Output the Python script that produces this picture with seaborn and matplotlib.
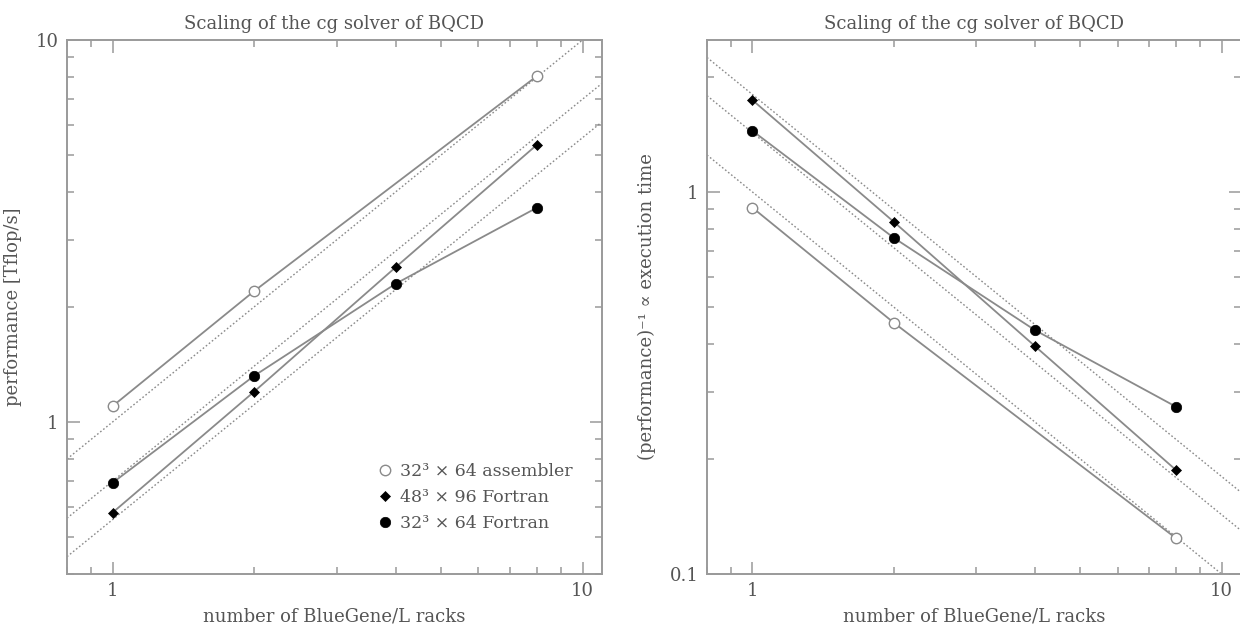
import numpy as np
import pandas as pd
import matplotlib
matplotlib.use("Agg")
import matplotlib.pyplot as plt
import seaborn as sns
from matplotlib.lines import Line2D
from matplotlib.ticker import LogLocator, NullFormatter, FuncFormatter

# ---------------- data ----------------
racks = [1, 2, 4, 8]
racks_asm = [1, 2, 8]

labels = ["32³ × 64 assembler", "48³ × 96 Fortran", "32³ × 64 Fortran"]

perf_asm = [1.10, 2.20, 8.05]
perf_f48 = [0.579, 1.20, 2.54, 5.32]
perf_f32 = [0.693, 1.32, 2.30, 3.64]

inv_asm = [0.91, 0.455, 0.124]
inv_f48 = [1.74, 0.836, 0.395, 0.187]
inv_f32 = [1.446, 0.759, 0.435, 0.274]

# ideal-scaling reference lines (value at 1 rack)
ref_left = [1.0, 0.70, 0.555]
ref_right = [1.0, 1.43, 1.80]

title = "Scaling of the cg solver of BQCD"
xlabel = "number of BlueGene/L racks"
ylabel_left = "performance [Tflop/s]"
ylabel_right = "(performance)⁻¹ ∝ execution time"

# ---------------- style ----------------
sns.set_style("ticks")
plt.rcParams["font.family"] = ["DejaVu Serif", "DejaVu Sans"]
TXT = "#555555"
LINE = "#8a8a8a"
SPINE = "#9a9a9a"
plt.rcParams.update({
    "text.color": TXT, "axes.labelcolor": TXT,
    "xtick.color": SPINE, "ytick.color": SPINE,
    "xtick.labelcolor": TXT, "ytick.labelcolor": TXT,
})
FS = 13

fig = plt.figure(figsize=(12.4, 6.26), dpi=100)
W, H = 1240, 626
ax1 = fig.add_axes([67 / W, 1 - 574 / H, (602 - 67) / W, (574 - 40) / H])
ax2 = fig.add_axes([707 / W, 1 - 574 / H, (1241 - 707) / W, (574 - 40) / H])

series_styles = [
    dict(marker="o", markersize=7.5, markerfacecolor="white", markeredgecolor=LINE, markeredgewidth=1.0),
    dict(marker="D", markersize=4.8, markerfacecolor="black", markeredgecolor="black", markeredgewidth=0.5),
    dict(marker="o", markersize=7.5, markerfacecolor="black", markeredgecolor="black", markeredgewidth=0.5),
]


def draw(ax, xs_list, ys_list, refs, ylim, ylabel, slope_sign):
    for c in refs:
        ax.axline((1, c), (10, c * 10 ** slope_sign), color=LINE, lw=1.0,
                  ls=(0, (1.2, 1.6)), zorder=1)
    for xs, ys, st in zip(xs_list, ys_list, series_styles):
        df = pd.DataFrame({"x": xs, "y": ys})
        sns.lineplot(data=df, x="x", y="y", ax=ax, color=LINE, lw=1.3,
                     zorder=3, **st)
    ax.set_xscale("log")
    ax.set_yscale("log")
    ax.set_xlim(0.8, 11)
    ax.set_ylim(*ylim)
    fmt = FuncFormatter(lambda v, p: "%g" % v)
    for axis in (ax.xaxis, ax.yaxis):
        axis.set_major_locator(LogLocator(base=10))
        axis.set_minor_locator(LogLocator(base=10, subs=np.arange(2, 10)))
        axis.set_major_formatter(fmt)
        axis.set_minor_formatter(NullFormatter())
    ax.tick_params(which="both", direction="in", top=True, right=True,
                   color=SPINE, width=1.1, labelsize=FS)
    ax.tick_params(which="major", length=9, pad=6)
    ax.tick_params(which="minor", length=5)
    for s in ax.spines.values():
        s.set_color(SPINE)
        s.set_linewidth(1.4)
    ax.set_title(title, fontsize=FS, color=TXT, pad=8)
    ax.set_xlabel(xlabel, fontsize=FS, labelpad=5)
    ax.set_ylabel(ylabel, fontsize=FS, labelpad=10)


draw(ax1, [racks_asm, racks, racks], [perf_asm, perf_f48, perf_f32],
     ref_left, (0.4, 10), ylabel_left, 1)
draw(ax2, [racks_asm, racks, racks], [inv_asm, inv_f48, inv_f32],
     ref_right, (0.1, 2.5), ylabel_right, -1)

handles = [Line2D([], [], ls="none", **st) for st in series_styles]
ax1.legend(handles, labels, loc="lower right", bbox_to_anchor=(0.975, 0.05),
           frameon=False, fontsize=12.5, handletextpad=0.3, labelspacing=0.5,
           handlelength=1.2, labelcolor=TXT)

fig.savefig("out.png", dpi=100)
